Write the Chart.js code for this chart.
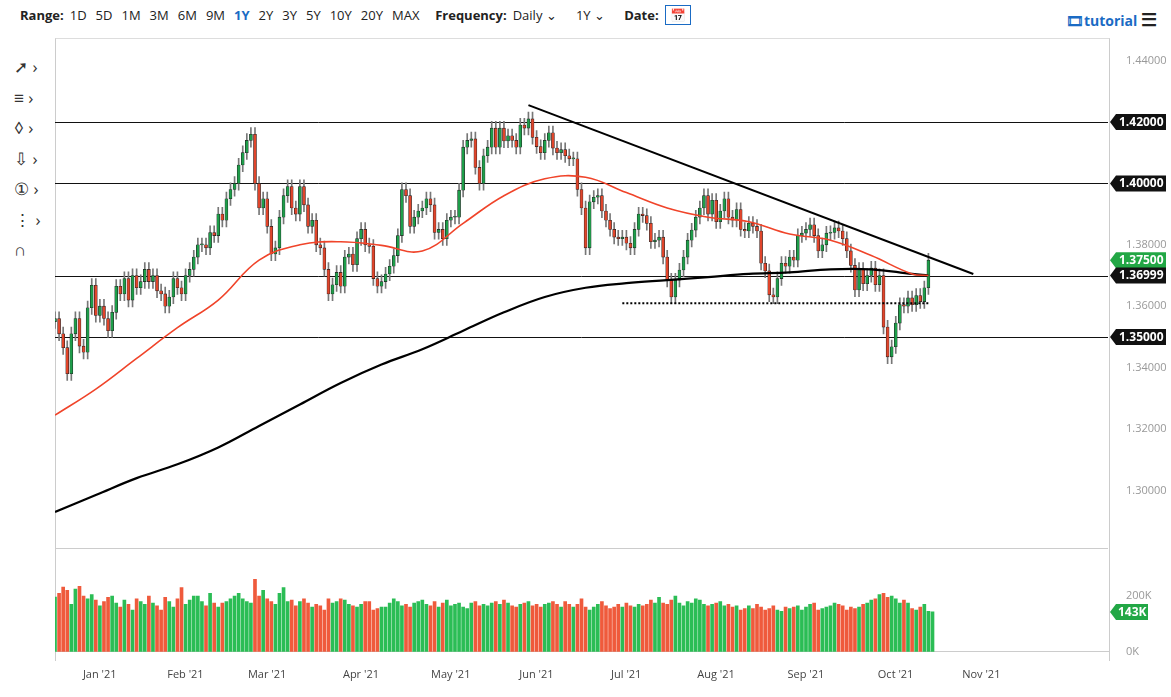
<!DOCTYPE html>
<html><head><meta charset="utf-8">
<script src="https://cdn.jsdelivr.net/npm/chart.js@4"></script>
<style>
body{margin:0;width:1171px;height:697px;background:#fff;font-family:"Open Sans",sans-serif;position:relative;overflow:hidden}
#tb{position:absolute;left:20px;top:6px;font-size:13px;color:#222;white-space:nowrap}
#tb b{font-weight:700;margin-right:6px}
#tb span{margin-right:9px}
.sel{color:#1a6bc4;font-weight:700}
#tut{position:absolute;right:14px;top:7px;font-size:14px;font-weight:700;color:#1a6bc4}
#left{position:absolute;left:14px;top:52px;width:36px;font-size:17px;color:#333;line-height:30.5px}
#c1{position:absolute;left:0;top:38px}
#c2{position:absolute;left:0;top:549px}
#frame{position:absolute;left:55px;top:38px;width:1053px;height:622px;border-left:1px solid #ccc;border-right:1px solid #ccc;border-top:1px solid #ddd}
#div{position:absolute;left:55px;top:548px;width:1053px;border-top:1px solid #ccc}
</style></head><body>
<div id="tb"><b>Range:</b><span>1D</span><span>5D</span><span>1M</span><span>3M</span><span>6M</span><span>9M</span><span class="sel">1Y</span><span>2Y</span><span>3Y</span><span>5Y</span><span>10Y</span><span>20Y</span><span>MAX</span>&nbsp;&nbsp;<b>Frequency:</b><span>Daily &#8964;</span>&nbsp;&nbsp;&nbsp;<span>1Y &#8964;</span>&nbsp;&nbsp;&nbsp;<b>Date:</b><span style="border:1px solid #1a6bc4;padding:0 4px;color:#1a6bc4">&#128197;</span></div>
<div id="tut">&#127902;tutorial <span style="color:#222;font-size:18px">&#9776;</span></div>
<div id="left">&#10138; ›<br>&#8801; ›<br>&#9674; ›<br>&#8681; ›<br>&#9312; ›<br>&#8942; ›<br>&#8745;</div>
<div id="frame"></div><div id="div"></div>
<canvas id="c1" width="1171" height="512"></canvas>
<canvas id="c2" width="1171" height="140"></canvas>
<script>
// Daily closes, Dec 21 2020 - Oct 15 2021
const closesDec=[1.3560,1.3510,1.3465,1.3380,1.3510,1.3560,1.3470,1.3450,1.3595];
const closesJan=[1.3668,1.3570,1.3600,1.3560,1.3520,1.3580,1.3665,1.3640,1.3690,1.3620,1.3700,1.3660,1.3680,1.3720,1.3680,1.3700,1.3650,1.3640,1.3600,1.3630,1.3690];
const closesFeb=[1.3660,1.3640,1.3700,1.3720,1.3760,1.3800,1.3800,1.3790,1.3840,1.3830,1.3900,1.3880,1.3950,1.3980,1.4000,1.4060,1.4100,1.4140,1.4160,1.4000];
const closesMar=[1.3920,1.3950,1.3860,1.3770,1.3790,1.3890,1.3960,1.3990,1.3920,1.3900,1.3990,1.3930,1.3860,1.3880,1.3800,1.3790,1.3720,1.3640,1.3670,1.3710,1.3665,1.3760,1.3770];
const closesApr=[1.3735,1.3820,1.3850,1.3800,1.3795,1.3690,1.3665,1.3680,1.3705,1.3730,1.3765,1.3830,1.3980,1.3960,1.3860,1.3890,1.3910,1.3920,1.3950,1.3930,1.3840,1.3850];
const closesMay=[1.3820,1.3880,1.3890,1.3890,1.3978,1.4118,1.4140,1.4145,1.4052,1.4000,1.4090,1.4118,1.4180,1.4118,1.4180,1.4138,1.4155,1.4140,1.4118,1.4190,1.4180];
const closesJun=[1.4210,1.4150,1.4120,1.4100,1.4140,1.4165,1.4115,1.4100,1.4110,1.4090,1.4080,1.4080,1.3980,1.3920,1.3790,1.3940,1.3955,1.3960,1.3910,1.3880,1.3850,1.3825];
const closesJul=[1.3820,1.3825,1.3805,1.3790,1.3850,1.3900,1.3895,1.3870,1.3810,1.3815,1.3825,1.3760,1.3685,1.3630,1.3685,1.3718,1.3760,1.3815,1.3848,1.3890,1.3920,1.3960];
const closesAug=[1.3900,1.3945,1.3875,1.3910,1.3950,1.3890,1.3880,1.3915,1.3850,1.3845,1.3870,1.3860,1.3845,1.3740,1.3715,1.3637,1.3630,1.3690,1.3740,1.3730,1.3760,1.3750];
const closesSepOct=[1.3830,1.3838,1.3850,1.3865,1.3830,1.3780,1.3800,1.3838,1.3840,1.3855,1.3845,1.3820,1.3780,1.3733,1.3653,1.3720,1.3673,1.3700,1.3724,1.3670,1.3700,1.3532,1.3435,1.3468,1.3545,1.3605,1.3600,1.3627,1.3605,1.3635,1.3615,1.3660,1.3750];
const firstOpen=1.3550;
// volumes (thousands)
const volumes=[196,210,232,220,170,225,235,200,190,205,185,165,180,195,200,175,160,185,170,150,190,180,170,200,175,165,150,195,180,160,190,230,170,185,200,200,180,165,210,175,160,175,180,190,200,210,190,180,175,260,200,220,190,180,170,210,230,180,185,165,180,190,175,160,170,165,150,190,175,180,190,185,170,165,160,170,180,180,150,155,160,160,175,190,180,165,170,160,175,180,185,170,165,180,160,175,185,165,170,175,160,155,175,180,165,170,165,175,180,170,185,175,165,160,170,175,180,165,170,160,170,175,180,170,160,180,170,160,170,190,160,150,160,170,180,165,155,160,170,160,175,165,160,170,165,170,185,175,195,175,170,185,200,175,165,180,175,190,185,170,165,170,175,180,165,170,160,165,150,155,165,155,170,160,150,155,165,150,145,160,155,160,165,150,160,170,175,150,155,160,165,175,170,165,150,160,155,160,170,175,185,190,205,210,195,200,190,175,185,175,155,150,160,170,145,143];
const ma50Idx=[0,10,20,30,40,50,60,70,80,90,100,110,120,130,140,150,160,170,180,190,200,210,214];
const ma50=[1.3245,1.333,1.343,1.353,1.362,1.375,1.380,1.381,1.3798,1.378,1.387,1.396,1.4015,1.402,1.397,1.392,1.389,1.3875,1.3835,1.3815,1.3765,1.3705,1.370];
const ma200=[1.293,1.2985,1.304,1.3085,1.314,1.321,1.328,1.335,1.341,1.346,1.352,1.358,1.363,1.366,1.3675,1.3685,1.3695,1.3705,1.371,1.372,1.372,1.3705,1.370];
const hLevels=[1.42,1.40,1.36999,1.35];
const boxLabels=[["1.42000",1.42,"#111"],["1.40000",1.40,"#111"],["1.37500",1.375,"#22a745"],["1.36999",1.36999,"#111"],["1.35000",1.35,"#111"]];
const trendLine=[[116,1.4255],[225,1.3705]];
const supportLine=[[139,1.3610],[214,1.3610]];
const yTicks=[1.30,1.32,1.34,1.36,1.38,1.40,1.42,1.44];
const monthNames=["Jan","Feb","Mar","Apr","May","Jun","Jul","Aug","Sep","Oct","Nov","Dec"];

const closes=[].concat(closesDec,closesJan,closesFeb,closesMar,closesApr,closesMay,closesJun,closesJul,closesAug,closesSepOct);
const N=closes.length, EXTRA=44;
const dates=[];let d=new Date(2021,9,15);
while(dates.length<N){if(d.getDay()%6!==0)dates.unshift(new Date(d));d.setDate(d.getDate()-1);}
d=new Date(2021,9,16);while(dates.length<N+EXTRA){if(d.getDay()%6!==0)dates.push(new Date(d));d.setDate(d.getDate()+1);}
const labels=dates.map((x,i)=>i);
const opens=closes.map((c,i)=>i?closes[i-1]:firstOpen);
const up=closes.map((c,i)=>c>=opens[i]);
const GREEN="#1e9e4a",RED="#e0452b";
const body=closes.map((c,i)=>[opens[i],Math.abs(c-opens[i])<0.0003?opens[i]+0.0003:c]);
const WICK=0.0022;
const wick=closes.map((c,i)=>[Math.min(c,opens[i])-WICK,Math.max(c,opens[i])+WICK]);
const monthLabel=i=>{if(i<=0||i>=dates.length)return null;const a=dates[i-1],b=dates[i];if(a.getMonth()!==b.getMonth()&&!(b.getMonth()===11))return monthNames[b.getMonth()]+" '"+String(b.getFullYear()).slice(2);return null;};
const lineDs=(idx,vals,col,w)=>({type:'line',data:idx.map((k,j)=>({x:k,y:vals[j]})),borderColor:col,borderWidth:w,pointRadius:0,tension:0.4,order:0});
const segDs=(pts,col,w,dash)=>({type:'line',data:pts.map(p=>({x:p[0],y:p[1]})),borderColor:col,borderWidth:w,borderDash:dash||[],pointRadius:0,order:0});
const fixW={afterFit(a){a.width=63;}};
const overlay={id:'ov',beforeDatasetsDraw(ch){const {ctx,chartArea:ca,scales:{y}}=ch;ctx.save();ctx.strokeStyle='#111';ctx.lineWidth=1;
 hLevels.forEach(v=>{const py=Math.round(y.getPixelForValue(v))+0.5;ctx.beginPath();ctx.moveTo(ca.left,py);ctx.lineTo(ca.right,py);ctx.stroke();});ctx.restore();},
 afterDraw(ch){const {ctx,chartArea:ca,scales:{y}}=ch;ctx.save();ctx.font='bold 12px "Open Sans"';ctx.textBaseline='middle';
 boxLabels.forEach(([t,v,c])=>{const py=y.getPixelForValue(v);ctx.fillStyle=c;ctx.beginPath();ctx.moveTo(ca.right+2,py);ctx.lineTo(ca.right+8,py-8);ctx.lineTo(ca.right+58,py-8);ctx.lineTo(ca.right+58,py+8);ctx.lineTo(ca.right+8,py+8);ctx.closePath();ctx.fill();ctx.fillStyle='#fff';ctx.fillText(t,ca.right+11,py+0.5);});ctx.restore();}};
new Chart(document.getElementById('c1'),{type:'bar',data:{labels,datasets:[
 {data:wick,backgroundColor:'#777',barThickness:1,grouped:false,order:2},
 {data:body,backgroundColor:up.map(u=>u?GREEN:RED),borderColor:'#222',borderWidth:0.6,borderSkipped:false,barThickness:3,grouped:false,order:1},
 lineDs(ma50Idx,ma50,'#f0442a',1.6),lineDs(ma50Idx,ma200,'#000',2.2),
 segDs(trendLine,'#000',2),segDs(supportLine,'#000',2,[2,2])]},
 options:{animation:false,responsive:false,plugins:{legend:{display:false},tooltip:{enabled:false}},layout:{padding:{left:55,top:0,bottom:0}},
 scales:{x:{type:'category',display:false,offset:false,min:0,max:labels.length-1},
 y:{position:'right',min:1.2860,max:1.44195,...fixW,grid:{display:false},border:{display:false},afterBuildTicks(a){a.ticks=yTicks.map(v=>({value:v}));},
 ticks:{color:'#999',font:{size:11,family:'"Open Sans"'},padding:10,callback:v=>v.toFixed(5)}}}},plugins:[overlay]});
const volBox={id:'vb',afterDraw(ch){const {ctx,chartArea:ca,scales:{y}}=ch;const py=y.getPixelForValue(143);ctx.save();ctx.fillStyle='#22a745';ctx.beginPath();ctx.moveTo(ca.right+2,py);ctx.lineTo(ca.right+8,py-8);ctx.lineTo(ca.right+40,py-8);ctx.lineTo(ca.right+40,py+8);ctx.lineTo(ca.right+8,py+8);ctx.closePath();ctx.fill();ctx.fillStyle='#fff';ctx.font='bold 12px "Open Sans"';ctx.textBaseline='middle';ctx.fillText('143K',ca.right+10,py+0.5);ctx.restore();}};
new Chart(document.getElementById('c2'),{type:'bar',data:{labels,datasets:[{data:volumes,backgroundColor:up.map(u=>u?'#2bbd55':'#ef5a3c'),barThickness:3}]},
 options:{animation:false,responsive:false,plugins:{legend:{display:false},tooltip:{enabled:false}},layout:{padding:{left:55,top:4}},
 scales:{x:{type:'category',offset:false,grid:{display:false},border:{color:'#ccc'},ticks:{autoSkip:false,maxRotation:0,labelOffset:8,color:'#444',font:{size:11,family:'"Open Sans"'},padding:8,callback:(v,i)=>monthLabel(i)}},
 y:{position:'right',min:0,max:309,...fixW,grid:{display:false},border:{display:false},afterBuildTicks(a){a.ticks=[{value:0},{value:200}];},ticks:{color:'#999',font:{size:11,family:'"Open Sans"'},padding:10,callback:v=>v+'K'}}}},plugins:[volBox]});
</script></body></html>
